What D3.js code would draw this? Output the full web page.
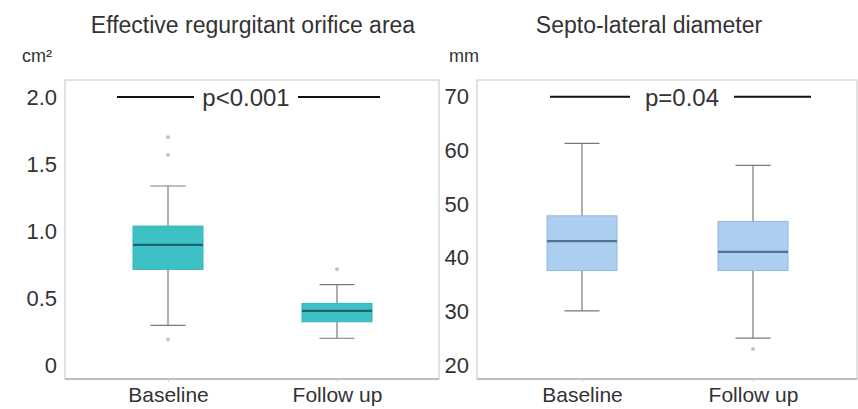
<!DOCTYPE html>
<html>
<head>
<meta charset="utf-8">
<script src="https://cdn.jsdelivr.net/npm/d3@7"></script>
<style>
  body { margin: 0; background: #fff; }
  text { font-family: "Liberation Sans", Arial, sans-serif; fill: #333; }
</style>
</head>
<body>
<div id="chart"></div>
<script>
var width = 858, height = 409;

// data
var groups = ["Baseline", "Follow up"];

var eroaStats = [
  {q1: 0.714, median: 0.897, q3: 1.037, low: 0.296, high: 1.336, outliers: [1.70, 1.57, 0.19]},
  {q1: 0.323, median: 0.405, q3: 0.46,  low: 0.20,  high: 0.60,  outliers: [0.714]}
];
var eroaTicks = [0, 0.5, 1.0, 1.5, 2.0];
var eroaTickLabels = ["0", "0.5", "1.0", "1.5", "2.0"];

var sldStats = [
  {q1: 37.6, median: 43.1, q3: 47.8, low: 30.1, high: 61.3, outliers: []},
  {q1: 37.6, median: 41.1, q3: 46.75, low: 25.0, high: 57.2, outliers: [23]}
];
var sldTicks = [20, 30, 40, 50, 60, 70];

var panels = [
  {title: "Effective regurgitant orifice area", unit: "cm²", stats: eroaStats,
   ticks: eroaTicks, tickLabels: eroaTickLabels, domain: [-0.104, 2.127], pval: "p<0.001", pAt: 2.0,
   left: 65, right: 439, xs: [168, 337], fill: "#3ec1c4", stroke: "#38b4b6", medianColor: "#1b6668",
   titleX: 253, unitX: 22, pMid: 246, bx: [117, 380]},
  {title: "Septo-lateral diameter", unit: "mm", stats: sldStats,
   ticks: sldTicks, tickLabels: sldTicks.map(String), domain: [17.4, 73.1], pval: "p=0.04", pAt: 70,
   left: 477, right: 857, xs: [582, 753], fill: "#abcef1", stroke: "#93b7dc", medianColor: "#4d7292",
   titleX: 649, unitX: 449, pMid: 682, bx: [550, 811]}
];

var plotTop = 80, plotBottom = 379;

var svg = d3.select("#chart").append("svg")
  .attr("width", width).attr("height", height);

panels.forEach(function(p) {
  var g = svg.append("g");

  var y = d3.scaleLinear().domain(p.domain).range([plotBottom, plotTop]);
  var x = d3.scalePoint().domain(groups).range(p.xs);
  var boxW = 70;

  // frame
  g.append("rect")
    .attr("x", p.left).attr("y", plotTop)
    .attr("width", p.right - p.left).attr("height", plotBottom - plotTop)
    .attr("fill", "none").attr("stroke", "#cfcfcf").attr("stroke-width", 1.2);
  g.append("line")
    .attr("x1", p.left).attr("x2", p.right).attr("y1", plotBottom).attr("y2", plotBottom)
    .attr("stroke", "#9a9a9a").attr("stroke-width", 1.2);

  // y axis
  var yAxis = d3.axisLeft(y).tickValues(p.ticks)
    .tickFormat(function(d, i) { return p.tickLabels[i]; })
    .tickSize(0).tickPadding(8);
  var ya = g.append("g").attr("transform", "translate(" + p.left + ",0)").call(yAxis);
  ya.select(".domain").remove();
  ya.selectAll("text").style("font-size", "22px").attr("fill", "#222");

  // x axis
  var xAxis = d3.axisBottom(x).tickSize(3).tickPadding(5);
  var xa = g.append("g").attr("transform", "translate(0," + plotBottom + ")").call(xAxis);
  xa.select(".domain").remove();
  xa.selectAll("line").attr("stroke", "#ccc");
  xa.selectAll("text").style("font-size", "21px").attr("fill", "#333");

  // title & unit
  g.append("text").attr("x", p.titleX).attr("y", 33)
    .attr("text-anchor", "middle").style("font-size", "23px").attr("fill", "#222")
    .text(p.title);
  g.append("text").attr("x", p.unitX).attr("y", 61.5)
    .style("font-size", "18px").attr("fill", "#222").text(p.unit);

  // boxes
  var box = g.selectAll(".box").data(p.stats).join("g")
    .attr("transform", function(d, i) { return "translate(" + x(groups[i]) + ",0)"; });

  box.append("line")
    .attr("x1", 0).attr("x2", 0)
    .attr("y1", function(d) { return y(d.high); })
    .attr("y2", function(d) { return y(d.low); })
    .attr("stroke", "#7a7a7a").attr("stroke-width", 1.2);
  box.selectAll(".cap").data(function(d) { return [d.low, d.high]; }).join("line")
    .attr("x1", -boxW / 4).attr("x2", boxW / 4)
    .attr("y1", function(v) { return y(v); }).attr("y2", function(v) { return y(v); })
    .attr("stroke", "#7a7a7a").attr("stroke-width", 1.2);
  box.append("rect")
    .attr("x", -boxW / 2).attr("width", boxW)
    .attr("y", function(d) { return y(d.q3); })
    .attr("height", function(d) { return y(d.q1) - y(d.q3); })
    .attr("fill", p.fill).attr("stroke", p.stroke).attr("stroke-width", 1);
  box.append("line")
    .attr("x1", -boxW / 2).attr("x2", boxW / 2)
    .attr("y1", function(d) { return y(d.median); })
    .attr("y2", function(d) { return y(d.median); })
    .attr("stroke", p.medianColor).attr("stroke-width", 2.2);
  box.selectAll(".out").data(function(d) { return d.outliers; }).join("circle")
    .attr("cx", 0).attr("cy", function(v) { return y(v); })
    .attr("r", 2).attr("fill", "#c4c4c4");

  // p-value bracket
  var py = y(p.pAt);
  var half = 52;
  g.append("line").attr("x1", p.bx[0]).attr("x2", p.pMid - half)
    .attr("y1", py).attr("y2", py).attr("stroke", "#111").attr("stroke-width", 2);
  g.append("line").attr("x1", p.pMid + half).attr("x2", p.bx[1])
    .attr("y1", py).attr("y2", py).attr("stroke", "#111").attr("stroke-width", 2);
  g.append("text").attr("x", p.pMid).attr("y", py + 9)
    .attr("text-anchor", "middle").style("font-size", "24px").attr("fill", "#222")
    .text(p.pval);
});
</script>
</body>
</html>
